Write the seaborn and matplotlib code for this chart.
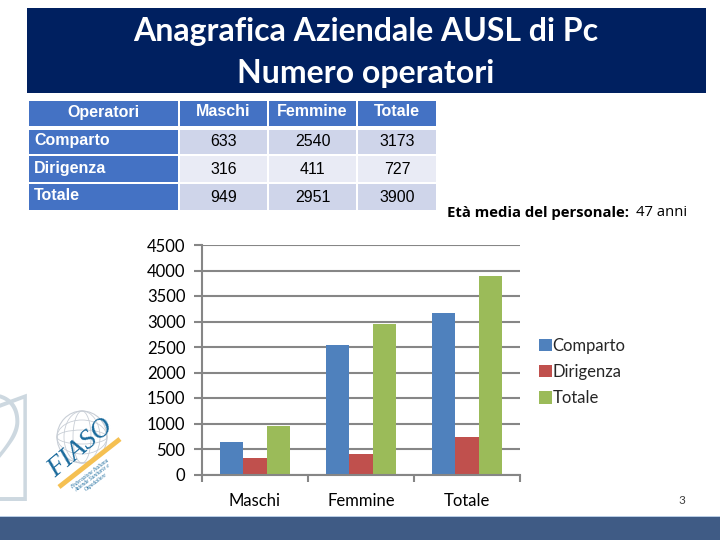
import pandas as pd
import matplotlib.pyplot as plt
from matplotlib.patches import Rectangle, Ellipse
import seaborn as sns

sns.set_theme(style="white")
plt.rcParams['font.family'] = ['Lato', 'DejaVu Sans']

title_lines = ['Anagrafica Aziendale AUSL di Pc', 'Numero operatori']
categories = ['Maschi', 'Femmine', 'Totale']
comparto = [633, 2540, 3173]
dirigenza = [316, 411, 727]
totale = [949, 2951, 3900]
series_names = ['Comparto', 'Dirigenza', 'Totale']
table_header = ['Operatori', 'Maschi', 'Femmine', 'Totale']
yticks = [0, 500, 1000, 1500, 2000, 2500, 3000, 3500, 4000, 4500]
colors = ['#4f81bd', '#c0504d', '#9bbb59']

W, H = 720, 540
fig = plt.figure(figsize=(7.2, 5.4), dpi=100, facecolor='white')

# background layer in pixel coords
bg = fig.add_axes([0, 0, 1, 1])
bg.set_xlim(0, W)
bg.set_ylim(H, 0)
bg.axis('off')

# title band and footer
bg.add_patch(Rectangle((27, 8), 679, 85, color='#002060', lw=0))
bg.text(366, 32, title_lines[0], color='white', fontsize=23, fontweight='bold', ha='center', va='center')
bg.text(366, 73, title_lines[1], color='white', fontsize=23, fontweight='bold', ha='center', va='center')
bg.add_patch(Rectangle((0, 516), W, 1.5, color='#b9cde5', lw=0))
bg.add_patch(Rectangle((0, 517), W, 23, color='#3f5b85', lw=0))

# table
col_x = [(29, 178), (180, 267), (269, 356), (358, 436)]
row_y = [(101, 126), (130, 154), (156, 182), (184, 210)]
rows = [comparto, dirigenza, totale]
tbl_font = 'Liberation Sans'
for (x0, x1), label in zip(col_x, table_header):
    bg.add_patch(Rectangle((x0, row_y[0][0]), x1 - x0, row_y[0][1] - row_y[0][0], color='#4472c4', lw=0))
    bg.text((x0 + x1) / 2, 112, label, color='white', fontsize=11.5, fontweight='bold', family=tbl_font,
            ha='center', va='center')
for i, name in enumerate(series_names):
    y0, y1 = row_y[i + 1]
    shade = '#e9ebf5' if i == 1 else '#cfd5ea'
    bg.add_patch(Rectangle((29, y0), 149, y1 - y0, color='#4472c4', lw=0))
    bg.text(34, (y0 + y1) / 2 - 1, name, color='white', fontsize=11.5, fontweight='bold', family=tbl_font,
            ha='left', va='center')
    for j, (x0, x1) in enumerate(col_x[1:]):
        bg.add_patch(Rectangle((x0, y0), x1 - x0, y1 - y0, color=shade, lw=0))
        bg.text((x0 + x1) / 2, (y0 + y1) / 2, str(rows[i][j]), color='black', fontsize=11.5,
                family=tbl_font, ha='center', va='center')

# average age note
bg.text(447, 213, 'Età media del personale:', fontsize=10.7, fontweight='bold',
        family='Open Sans', color='black', ha='left', va='center')
bg.text(636, 213, '47 anni', fontsize=10.7, family='Open Sans', color='black', ha='left', va='center')

# logo, rough
bg.text(32, 501, '2', fontsize=108, color='#cdd8e0', family='Roboto', fontweight='light',
        ha='right', va='baseline')
bg.text(60, 501, '1', fontsize=108, color='#cdd8e0', family='Roboto', fontweight='light',
        ha='right', va='baseline')
bg.add_patch(Ellipse((82, 437), 50, 52, fill=False, ec='#c8ced6', lw=0.8))
for w in [18, 36]:
    bg.add_patch(Ellipse((82, 437), w, 52, fill=False, ec='#c8ced6', lw=0.6))
for h in [14, 34]:
    bg.add_patch(Ellipse((82, 437), 50, h, fill=False, ec='#c8ced6', lw=0.6))
bg.plot([59, 120], [487, 439], color='#f5c052', lw=3.5, solid_capstyle='butt')
bg.text(81, 448, 'FIASO', fontsize=20, color='#1a6a9c', family='Liberation Serif', style='italic',
        rotation=40, ha='center', va='center', rotation_mode='anchor')
bg.text(93, 478, 'Federazione Italiana\nAziende Sanitarie e\nOspedaliere', fontsize=4, color='#1a6a9c',
        family='Liberation Serif', style='italic', rotation=37, ha='center', va='center',
        rotation_mode='anchor', linespacing=1.1)

bg.text(682, 500, '3', fontsize=8.5, color='#404040', ha='center', va='center')

# chart
df = pd.DataFrame({'categoria': categories, 'Comparto': comparto, 'Dirigenza': dirigenza, 'Totale': totale})
df = df.melt(id_vars='categoria', var_name='gruppo', value_name='valore')

ax = fig.add_axes([202 / W, 1 - 474.5 / H, 318 / W, 229.5 / H])
ax.patch.set_alpha(0)
sns.barplot(data=df, x='categoria', y='valore', hue='gruppo', hue_order=series_names,
            palette=colors, saturation=1, width=0.67, gap=0.02, linewidth=0, ax=ax)
ax.set_xlim(-0.5, 2.5)
ax.set_ylim(0, 4500)
ax.set_yticks(yticks)
ax.set_xlabel('')
ax.set_ylabel('')
ax.set_axisbelow(True)
ax.grid(axis='y', color='#868686', lw=1.5)
ax.grid(axis='x', visible=False)
for s in ['top', 'right']:
    ax.spines[s].set_visible(False)
for s in ['left', 'bottom']:
    ax.spines[s].set_color('#868686')
    ax.spines[s].set_linewidth(1.5)
ax.tick_params(axis='y', left=True, length=6, width=1.5, color='#868686', labelsize=12,
               labelcolor='black', pad=6)
ax.tick_params(axis='x', bottom=False, labelsize=12, labelcolor='black', pad=7)
# ticks between the groups
ax.set_xticks([-0.5, 0.5, 1.5, 2.5], minor=True)
ax.tick_params(axis='x', which='minor', bottom=True, length=5, width=1.5, color='#868686')

ax.legend(loc='center left', bbox_to_anchor=(539 / W, 1 - 372 / H), bbox_transform=fig.transFigure,
          frameon=False, fontsize=12, handlelength=0.75, handleheight=0.75, handletextpad=0.05,
          labelspacing=0.62, borderpad=0, borderaxespad=0, title=None)

fig.savefig('out.png', dpi=100)
